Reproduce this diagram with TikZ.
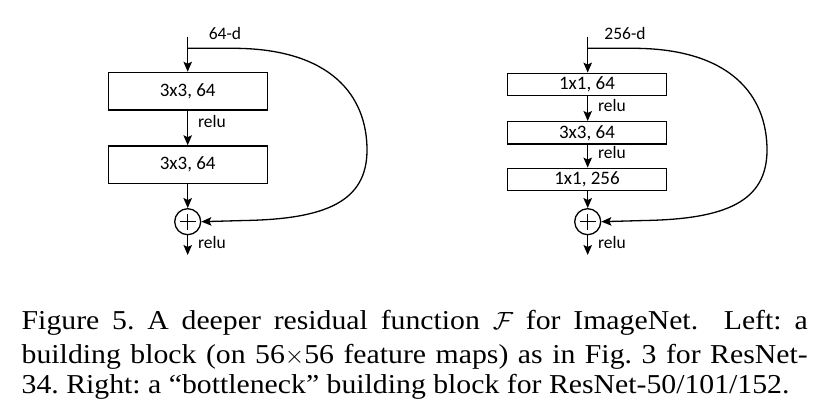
\documentclass[tikz,border=0pt]{standalone}
\usepackage{fontspec}
\setmainfont{Liberation Serif}
\newfontfamily\capfont[FakeStretch=1.09]{Liberation Serif}
\newfontfamily\diafont{Carlito}
\usetikzlibrary{arrows.meta}
\begin{document}
\frenchspacing
\begin{tikzpicture}[x=1pt,y=-1pt,
  blk/.style={draw,line width=1.4pt,minimum width=159pt,inner sep=0pt,font=\diafont\fontsize{19}{20}\selectfont},
  lbl/.style={font=\diafont\fontsize{17.5}{19}\selectfont,inner sep=0pt},
  arr/.style={line width=1.3pt,-{Stealth[length=10pt,width=8.5pt,inset=2pt]}},
  sumnode/.style={draw,circle,line width=1.3pt,minimum size=26pt,inner sep=0pt,
    path picture={\draw[line width=1.2pt] ([xshift=-8pt]path picture bounding box.center) -- ([xshift=8pt]path picture bounding box.center)
      ([yshift=-8pt]path picture bounding box.center) -- ([yshift=8pt]path picture bounding box.center);}},
  captext/.style={font=\capfont\fontsize{27.3}{31}\selectfont,inner sep=0pt,anchor=base west}]
\useasboundingbox (0,0) rectangle (827,411);
% left block
\coordinate (lt) at (187.7,36.7);
\coordinate (ls) at (187.7,48.3);
\coordinate (lb) at (187.7,255);
\node[blk,minimum height=37.5pt] (l1) at (187.7,91.2) {3x3, 64};
\node[blk,minimum height=37.5pt] (l2) at (187.7,164.7) {3x3, 64};
\node[sumnode] (lp) at (187.7,221.7) {};
\node[lbl] (ld) at (225,33) {64-d};
\node[lbl] (lr1) at (212,121) {relu};
\node[lbl] (lr2) at (212,242.5) {relu};
\draw[arr] (lt) -- (l1.north);
\draw[arr] (l1.south) -- (l2.north);
\draw[arr] (l2.south) -- (lp.north);
\draw[arr] (lp.south) -- (lb);
\draw[arr] (ls) -- (235,48.3) .. controls (330,49) and (367,95) .. (367,150)
  .. controls (367,202) and (325,219) .. (245,220.5) -- (lp.east);
% right block
\coordinate (rt) at (587.7,36.7);
\coordinate (rs) at (587.7,48.3);
\coordinate (rb) at (587.7,255);
\node[blk,minimum height=22.4pt] (r1) at (587,84.5) {1x1, 64};
\node[blk,minimum height=22.4pt] (r2) at (587,132.9) {3x3, 64};
\node[blk,minimum height=22.4pt] (r3) at (587,179.5) {1x1, 256};
\node[sumnode] (rp) at (587.7,221.7) {};
\node[lbl] (rd) at (625,33) {256-d};
\node[lbl] (rr1) at (612,105.5) {relu};
\node[lbl] (rr2) at (612,152) {relu};
\node[lbl] (rr3) at (612,242.5) {relu};
\draw[arr] (rt) -- (rt|-r1.north);
\draw[arr] (rt|-r1.south) -- (rt|-r2.north);
\draw[arr] (rt|-r2.south) -- (rt|-r3.north);
\draw[arr] (rt|-r3.south) -- (rp.north);
\draw[arr] (rp.south) -- (rb);
\draw[arr] (rs) -- (635,48.3) .. controls (730,49) and (767,95) .. (767,150)
  .. controls (767,202) and (725,219) .. (645,220.5) -- (rp.east);
% caption
\node[captext] (c1) at (21.5,330) {\makebox[786pt][s]{Figure 5. A deeper residual function $\mathcal{F}$ for ImageNet.\ \ Left: a}};
\node[captext] (c2) at (21.5,363) {\makebox[786pt][s]{building block (on 56$\times$56 feature maps) as in Fig. 3 for ResNet-}};
\node[captext] (c3) at (21.5,393.5) {34. Right: a “bottleneck” building block for ResNet-50/101/152.};
\end{tikzpicture}
\end{document}
